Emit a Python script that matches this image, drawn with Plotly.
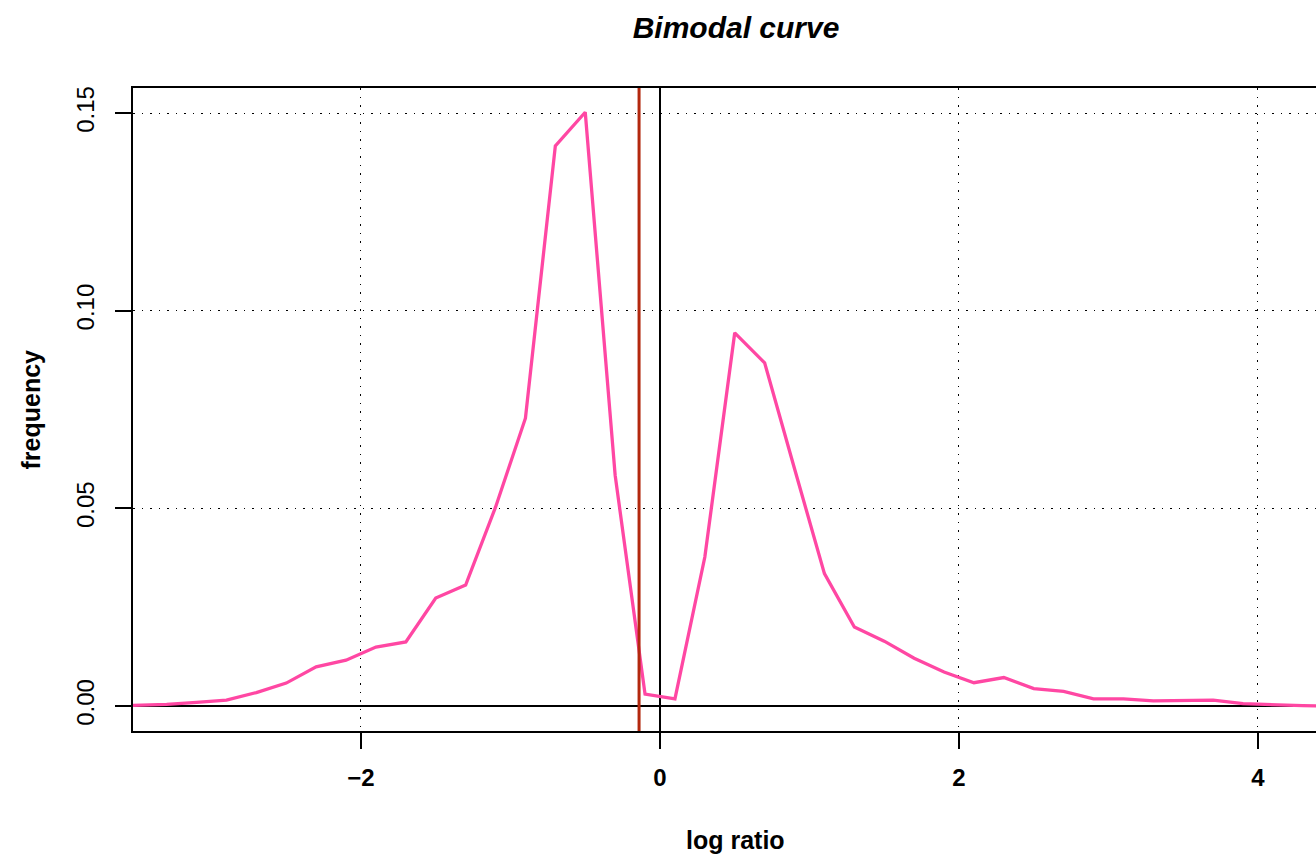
import plotly.graph_objects as go

# log-ratio bin centres and observed frequencies
log_ratio = [-3.7, -3.5, -3.3, -3.1, -2.9, -2.7, -2.5, -2.3, -2.1, -1.9, -1.7, -1.5,
             -1.3, -1.1, -0.9, -0.7, -0.5, -0.3, -0.1, 0.1, 0.3, 0.5, 0.7, 0.9,
             1.1, 1.3, 1.5, 1.7, 1.9, 2.1, 2.3, 2.5, 2.7, 2.9, 3.1, 3.3, 3.5,
             3.7, 3.9, 4.1, 4.3, 4.5]
frequency = [0.0000, 0.0001, 0.0004, 0.0009, 0.0015, 0.0034, 0.0058, 0.0099, 0.0116,
             0.0149, 0.0162, 0.0273, 0.0306, 0.0503, 0.0728, 0.1417, 0.1502, 0.0584,
             0.0030, 0.0018, 0.0377, 0.0944, 0.0868, 0.0600, 0.0335, 0.0200, 0.0164,
             0.0121, 0.0086, 0.0059, 0.0072, 0.0044, 0.0037, 0.0018, 0.0018, 0.0013,
             0.0013, 0.0015, 0.0006, 0.0003, 0.0001, 0.0000]

# cut-off between the two modes
threshold = -0.14

x_ticks = [-2, 0, 2, 4]
y_ticks = [0.00, 0.05, 0.10, 0.15]
y_tick_text = ["0.00", "0.05", "0.10", "0.15"]

FONT = "Liberation Sans, Arial, Helvetica, sans-serif"

fig = go.Figure()
fig.add_trace(go.Scatter(
    x=log_ratio, y=frequency, mode="lines",
    line=dict(color="#FF47A3", width=3.3),
    hoverinfo="x+y", showlegend=False,
))

fig.add_shape(type="line", xref="x", yref="paper", x0=threshold, x1=threshold,
              y0=0, y1=1, line=dict(color="#B3280E", width=3), layer="above")

fig.update_layout(
    width=1316, height=854,
    margin=dict(l=133, r=0, t=88, b=123),
    paper_bgcolor="white", plot_bgcolor="white",
    font=dict(family=FONT, color="black"),
    title=dict(text="Bimodal curve", x=736 / 1316, xref="container", xanchor="center",
               y=1 - 27 / 854, yref="container", yanchor="middle",
               font=dict(family=FONT, size=30, weight="bold", style="italic", color="black")),
    xaxis=dict(
        range=[-3.525, 4.388], tickvals=x_ticks, ticks="outside", ticklen=16, tickwidth=1.5,
        tickcolor="black", showline=True, linecolor="black", linewidth=1.5, mirror=True,
        showgrid=True, gridcolor="black", gridwidth=1.2, griddash="1.5px,7px",
        zeroline=True, zerolinecolor="black", zerolinewidth=1.5,
        tickfont=dict(family=FONT, size=24, weight="bold"), ticklabelstandoff=8,
    ),
    yaxis=dict(
        range=[-0.00632, 0.15633], tickvals=y_ticks, ticktext=y_tick_text, tickangle=-90,
        ticks="outside", ticklen=16, tickwidth=1.5, tickcolor="black",
        showline=True, linecolor="black", linewidth=1.5, mirror=False,
        showgrid=True, gridcolor="black", gridwidth=1.2, griddash="1.5px,7px",
        zeroline=True, zerolinecolor="black", zerolinewidth=1.5,
        tickfont=dict(family=FONT, size=24), ticklabelstandoff=12,
    ),
    annotations=[
        dict(text="log ratio", xref="paper", yref="paper", x=(735 - 133) / 1183,
             y=(731 - 840) / 643, xanchor="center", yanchor="middle", showarrow=False,
             font=dict(family=FONT, size=25, weight="bold")),
        dict(text="frequency", xref="paper", yref="paper", x=(30 - 133) / 1183,
             y=0.5, xanchor="center", yanchor="middle", textangle=-90, showarrow=False,
             font=dict(family=FONT, size=25, weight="bold")),
    ],
)

fig.write_html("out.html")
